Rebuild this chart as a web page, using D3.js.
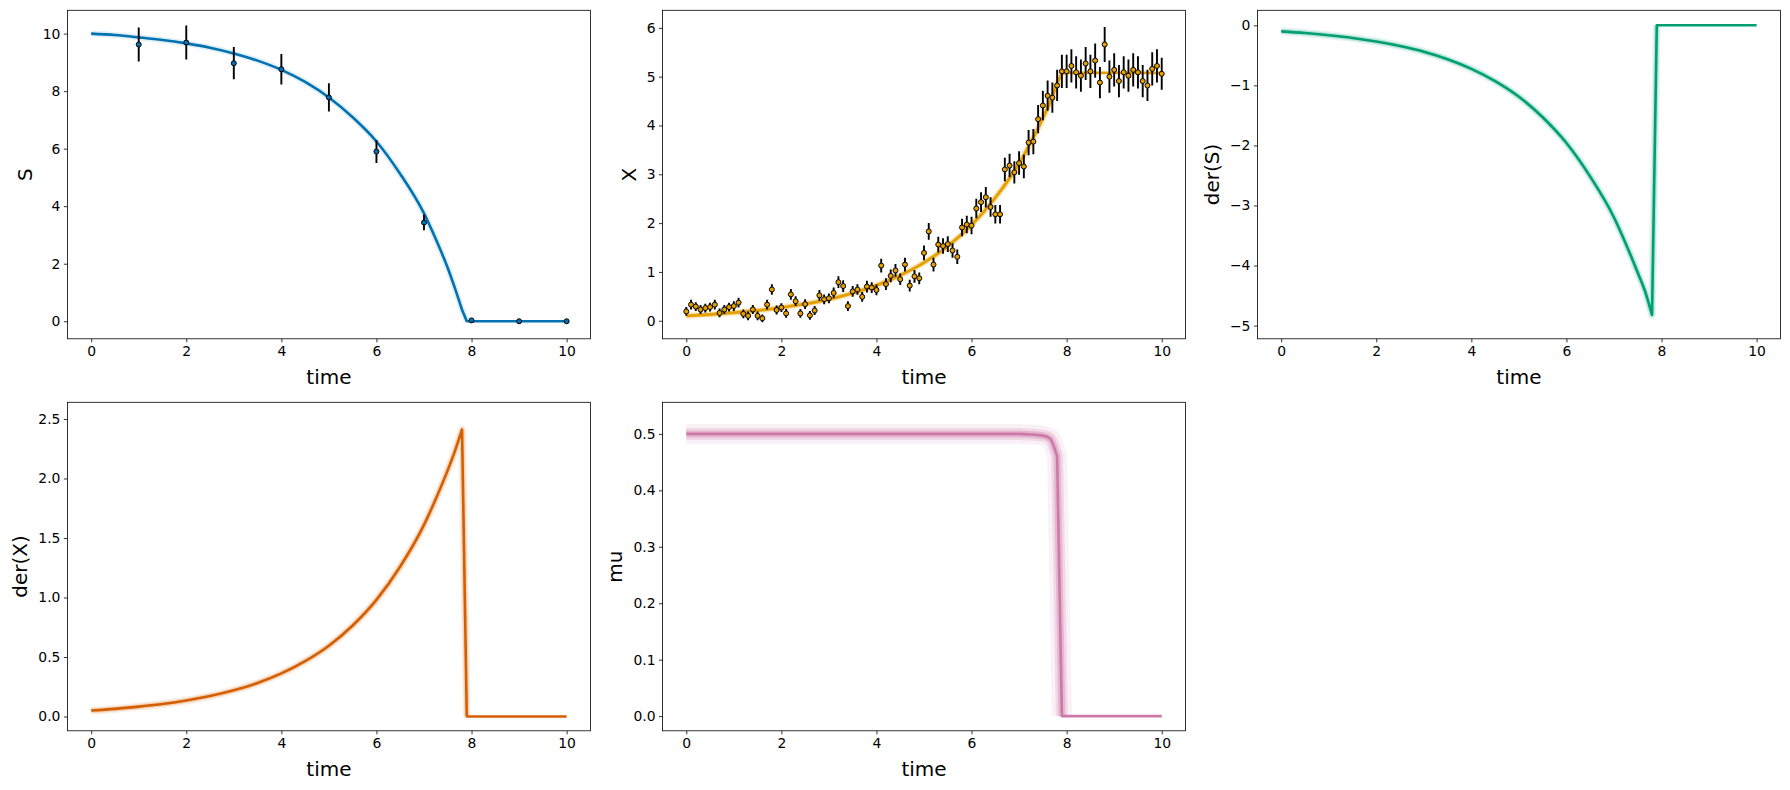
<!DOCTYPE html>
<html>
<head>
<meta charset="utf-8">
<script src="https://cdn.jsdelivr.net/npm/d3@7"></script>
<style>
body { margin: 0; background: #fff; }
svg { display: block; font-family: "DejaVu Sans", sans-serif; }
.tick text { font-size: 13.9px; fill: #000; }
.tick line { stroke: #000; stroke-width: 0.8; }
.axlabel { font-size: 20px; fill: #000; }
</style>
</head>
<body>
<div id="chart"></div>
<script>
// posterior mean curves
var curveTime = [0, 0.5, 1, 1.5, 2, 2.5, 3, 3.5, 4, 4.5, 5, 5.5, 6, 6.5, 7, 7.25, 7.5, 7.65, 7.8, 7.9, 8, 8.5, 9, 9.5, 10];
var sMean  = [10, 9.95, 9.87, 9.78, 9.66, 9.51, 9.31, 9.06, 8.74, 8.32, 7.78, 7.09, 6.25, 5.12, 3.75, 2.85, 1.85, 1.15, 0.4, 0, 0, 0, 0, 0, 0];
var xMean  = [0.10, 0.128, 0.165, 0.21, 0.27, 0.345, 0.44, 0.565, 0.725, 0.93, 1.19, 1.53, 1.96, 2.52, 3.22, 3.66, 4.15, 4.47, 4.86, 5.07, 5.08, 5.08, 5.08, 5.08, 5.08];
var dsMean = [-0.10, -0.128, -0.165, -0.21, -0.27, -0.345, -0.44, -0.565, -0.725, -0.93, -1.19, -1.53, -1.96, -2.52, -3.20, -3.64, -4.12, -4.42, -4.82, 0, 0, 0, 0, 0, 0];
var dxMean = [0.05, 0.064, 0.083, 0.105, 0.135, 0.172, 0.22, 0.282, 0.362, 0.465, 0.595, 0.765, 0.98, 1.26, 1.61, 1.83, 2.07, 2.23, 2.41, 0, 0, 0, 0, 0, 0];
var muMean = [0.5, 0.5, 0.5, 0.5, 0.5, 0.5, 0.5, 0.5, 0.5, 0.5, 0.5, 0.5, 0.5, 0.5, 0.5, 0.499, 0.497, 0.492, 0.46, 0, 0, 0, 0, 0, 0];

// measured substrate
var sObsTime = [1, 2, 3, 4, 5, 6, 7, 8, 9, 10];
var sObs = [9.62, 9.69, 8.97, 8.76, 7.78, 5.90, 3.43, 0.03, 0.0, 0.0];
var sErr = [0.59, 0.59, 0.56, 0.53, 0.49, 0.40, 0.27, 0.05, 0.02, 0.02];

// measured biomass
var xObsTime = [0, 0.1, 0.2, 0.3, 0.4, 0.5, 0.6, 0.7, 0.8, 0.9,
    1, 1.1, 1.2, 1.3, 1.4, 1.5, 1.6, 1.7, 1.8, 1.9,
    2, 2.1, 2.2, 2.3, 2.4, 2.5, 2.6, 2.7, 2.8, 2.9,
    3, 3.1, 3.2, 3.3, 3.4, 3.5, 3.6, 3.7, 3.8, 3.9,
    4, 4.1, 4.2, 4.3, 4.4, 4.5, 4.6, 4.7, 4.8, 4.9,
    5, 5.1, 5.2, 5.3, 5.4, 5.5, 5.6, 5.7, 5.8, 5.9,
    6, 6.1, 6.2, 6.3, 6.4, 6.5, 6.6, 6.7, 6.8, 6.9,
    7, 7.1, 7.2, 7.3, 7.4, 7.5, 7.6, 7.7, 7.8, 7.9,
    8, 8.1, 8.2, 8.3, 8.4, 8.5, 8.6, 8.7, 8.8, 8.9,
    9, 9.1, 9.2, 9.3, 9.4, 9.5, 9.6, 9.7, 9.8, 9.9,
    10];
var xObs = [0.19, 0.33, 0.29, 0.23, 0.26, 0.28, 0.33, 0.16, 0.23, 0.28,
    0.30, 0.37, 0.14, 0.10, 0.23, 0.10, 0.05, 0.33, 0.64, 0.22,
    0.27, 0.15, 0.54, 0.40, 0.15, 0.34, 0.11, 0.21, 0.52, 0.44,
    0.46, 0.57, 0.79, 0.71, 0.30, 0.60, 0.64, 0.49, 0.70, 0.68,
    0.63, 1.13, 0.75, 0.92, 1.03, 0.85, 1.15, 0.72, 0.91, 0.87,
    1.39, 1.83, 1.15, 1.56, 1.53, 1.57, 1.44, 1.31, 1.91, 1.97,
    1.95, 2.30, 2.43, 2.53, 2.33, 2.18, 2.18, 3.10, 3.18, 3.04,
    3.23, 3.16, 3.65, 3.67, 4.13, 4.41, 4.61, 4.57, 4.82, 5.11,
    5.11, 5.22, 5.09, 5.02, 5.27, 5.11, 5.33, 4.88, 5.66, 5.00,
    5.14, 4.91, 5.09, 5.02, 5.14, 5.09, 4.91, 4.82, 5.16, 5.22,
    5.06];
var xErr = [0.09, 0.10, 0.09, 0.09, 0.09, 0.09, 0.10, 0.09, 0.09, 0.09,
    0.10, 0.10, 0.09, 0.09, 0.09, 0.09, 0.08, 0.10, 0.11, 0.09,
    0.09, 0.09, 0.11, 0.10, 0.09, 0.10, 0.09, 0.09, 0.11, 0.10,
    0.10, 0.11, 0.12, 0.12, 0.10, 0.11, 0.11, 0.10, 0.12, 0.11,
    0.11, 0.14, 0.12, 0.13, 0.13, 0.12, 0.14, 0.12, 0.13, 0.12,
    0.15, 0.17, 0.14, 0.16, 0.16, 0.16, 0.15, 0.15, 0.18, 0.18,
    0.18, 0.20, 0.20, 0.21, 0.20, 0.19, 0.19, 0.24, 0.24, 0.23,
    0.24, 0.24, 0.26, 0.26, 0.29, 0.30, 0.31, 0.31, 0.32, 0.34,
    0.34, 0.34, 0.33, 0.33, 0.34, 0.34, 0.35, 0.32, 0.36, 0.33,
    0.34, 0.33, 0.33, 0.33, 0.34, 0.33, 0.33, 0.32, 0.34, 0.34,
    0.33];

// tick labels
var timeTicks = [0, 2, 4, 6, 8, 10];
var sTicks  = [0, 2, 4, 6, 8, 10];
var xTicks  = [0, 1, 2, 3, 4, 5, 6];
var dsTicks = [-5, -4, -3, -2, -1, 0];
var dxTicks = [0, 0.5, 1, 1.5, 2, 2.5];
var muTicks = [0, 0.1, 0.2, 0.3, 0.4, 0.5];

var width = 1790, height = 790;
var colLeft = [67.4, 662.5, 1257.4];
var rowTop = [10.3, 402.3];
var pw = 523, ph = 328.5;
var kinkTime = 7.8;   // last smooth point before the collapse
var dropEnd = 7.9;

var svg = d3.select('#chart')
    .append('svg')
    .attr('width', width)
    .attr('height', height);

function drawPanel(col, row, opt) {
    var g = svg.append('g')
        .attr('transform', 'translate(' + colLeft[col] + ',' + rowTop[row] + ')');

    var x_scale = d3.scaleLinear().domain([-0.5, 10.5]).range([0, pw]);
    var y_scale = d3.scaleLinear().domain(opt.yDomain).range([ph, 0]);

    var clipId = 'clip' + col + '_' + row;
    g.append('clipPath').attr('id', clipId)
        .append('rect').attr('width', pw).attr('height', ph);
    var plot = g.append('g').attr('clip-path', 'url(#' + clipId + ')');

    var smooth = d3.line()
        .x(function(d) { return x_scale(d[0]); })
        .y(function(d) { return y_scale(d[1]); })
        .curve(d3.curveMonotoneX);
    var straight = d3.line()
        .x(function(d) { return x_scale(d[0]); })
        .y(function(d) { return y_scale(d[1]); });

    var pts = d3.zip(curveTime, opt.values);
    var before = pts.filter(function(d) { return d[0] <= kinkTime; });
    var after = pts.filter(function(d) { return d[0] >= kinkTime; });
    var dropPts = after.filter(function(d) { return d[0] <= dropEnd; });

    function pathD(a, b) {
        return smooth(a) + straight(b).replace(/^M/, 'L');
    }

    // faint halo standing in for the many posterior draws
    opt.glow.forEach(function(gl) {
        plot.append('path')
            .attr('d', pathD(before, dropPts))
            .attr('fill', 'none')
            .attr('stroke', opt.color)
            .attr('stroke-width', gl[0])
            .attr('stroke-opacity', gl[1])
            .attr('stroke-linejoin', 'round');
    });

    plot.append('path')
        .attr('d', pathD(before, after))
        .attr('fill', 'none')
        .attr('stroke', opt.color)
        .attr('stroke-width', opt.core)
        .attr('stroke-linejoin', 'round');

    if (opt.obs) {
        var obs = d3.zip(opt.obs.t, opt.obs.v, opt.obs.e);
        plot.selectAll('.err')
            .data(obs)
            .enter()
            .append('line')
            .attr('class', 'err')
            .attr('x1', function(d) { return x_scale(d[0]); })
            .attr('x2', function(d) { return x_scale(d[0]); })
            .attr('y1', function(d) { return y_scale(d[1] - d[2]); })
            .attr('y2', function(d) { return y_scale(d[1] + d[2]); })
            .attr('stroke', '#000')
            .attr('stroke-width', 1.9);
        plot.selectAll('.dot')
            .data(obs)
            .enter()
            .append('circle')
            .attr('class', 'dot')
            .attr('cx', function(d) { return x_scale(d[0]); })
            .attr('cy', function(d) { return y_scale(d[1]); })
            .attr('r', 2.5)
            .attr('fill', opt.color)
            .attr('stroke', '#000')
            .attr('stroke-width', 1);
    }

    var x_axis = d3.axisBottom(x_scale).tickValues(timeTicks)
        .tickSizeInner(3.5).tickSizeOuter(0).tickPadding(3.5);
    var y_axis = d3.axisLeft(y_scale).tickValues(opt.ticks)
        .tickSizeInner(3.5).tickSizeOuter(0).tickPadding(3.5)
        .tickFormat(d3.format(opt.fmt));

    g.append('g')
        .attr('class', 'x axis')
        .attr('transform', 'translate(0,' + ph + ')')
        .call(x_axis)
        .call(function(a) { a.select('.domain').remove(); });

    var yg = g.append('g')
        .attr('class', 'y axis')
        .call(y_axis)
        .call(function(a) { a.select('.domain').remove(); });
    g.selectAll('.axis').attr('font-family', null).attr('font-size', null);

    g.append('rect')
        .attr('width', pw)
        .attr('height', ph)
        .attr('fill', 'none')
        .attr('stroke', '#000')
        .attr('stroke-width', 0.8);

    // X label
    g.append('text')
        .attr('class', 'axlabel')
        .attr('x', pw / 2)
        .attr('y', ph + 45)
        .attr('text-anchor', 'middle')
        .text('time');

    // Y label sits left of the widest tick label
    var left = yg.node().getBBox().x;
    g.append('text')
        .attr('class', 'axlabel')
        .attr('text-anchor', 'middle')
        .attr('transform', 'translate(' + (left - 11) + ',' + (ph / 2) + ') rotate(-90)')
        .text(opt.ylabel);
}

drawPanel(0, 0, {
    ylabel: 'S', color: '#0072B2', values: sMean,
    yDomain: [-0.61, 10.81], ticks: sTicks, fmt: 'd',
    glow: [[6, 0.12]], core: 2.6,
    obs: { t: sObsTime, v: sObs, e: sErr }
});

drawPanel(1, 0, {
    ylabel: 'X', color: '#E69F00', values: xMean,
    yDomain: [-0.37, 6.36], ticks: xTicks, fmt: 'd',
    glow: [[7, 0.15], [4.5, 0.3]], core: 2.8,
    obs: { t: xObsTime, v: xObs, e: xErr }
});

drawPanel(2, 0, {
    ylabel: 'der(S)', color: '#009E73', values: dsMean,
    yDomain: [-5.22, 0.25], ticks: dsTicks, fmt: 'd',
    glow: [[8, 0.1], [5, 0.2]], core: 2.6
});

drawPanel(0, 1, {
    ylabel: 'der(X)', color: '#D55E00', values: dxMean,
    yDomain: [-0.12, 2.64], ticks: dxTicks, fmt: '.1f',
    glow: [[8, 0.1], [5, 0.2]], core: 2.6
});

drawPanel(1, 1, {
    ylabel: 'mu', color: '#CC79A7', values: muMean,
    yDomain: [-0.026, 0.556], ticks: muTicks, fmt: '.1f',
    glow: [[20, 0.1], [12, 0.2], [7, 0.35]], core: 2.6
});
</script>
</body>
</html>
